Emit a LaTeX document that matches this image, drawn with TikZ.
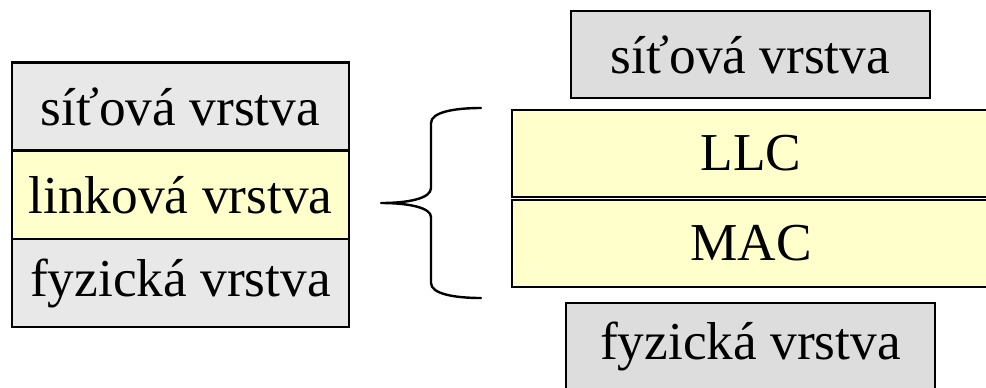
\documentclass[tikz,border=0pt]{standalone}
\usepackage{fontspec}
\setmainfont{Liberation Serif}
\definecolor{lgray}{HTML}{E8E8E8}
\definecolor{rgray}{HTML}{DDDDDD}
\definecolor{lyellow}{HTML}{FFFFCC}
\begin{document}
\begin{tikzpicture}[x=0.75pt,y=-0.75pt,
  layer/.style={draw=black,line width=2pt,inner sep=0pt,outer sep=0pt,
    font=\fontsize{40}{44}\selectfont,anchor=center},
  gray/.style={layer,fill=lgray},
  grayr/.style={layer,fill=rgray},
  yel/.style={layer,fill=lyellow}]
\useasboundingbox (0,0) rectangle (986,387);
\clip (0,0) rectangle (986,387);
% left stack
\node[gray,minimum width=337*0.75pt,minimum height=88*0.75pt] (lnet) at (180.5,106.5) {síťová vrstva};
\node[yel,minimum width=337*0.75pt,minimum height=88*0.75pt] (llink) at (180.5,195) {linková vrstva};
\node[gray,minimum width=337*0.75pt,minimum height=88*0.75pt] (lphy) at (180.5,283) {fyzická vrstva};
% right stack
\node[grayr,minimum width=359*0.75pt,minimum height=87*0.75pt] (rnet) at (750.5,54.5) {síťová vrstva};
\node[yel,minimum width=478*0.75pt,minimum height=87*0.75pt] (llc) at (751,153.5) {LLC};
\node[yel,minimum width=478*0.75pt,minimum height=87*0.75pt] (mac) at (751,243.5) {MAC};
\node[grayr,minimum width=369*0.75pt,minimum height=86*0.75pt] (rphy) at (750.5,346) {fyzická vrstva};
% brace
\coordinate (btop) at (481,108);
\coordinate (btip) at (381,203);
\coordinate (bbot) at (481,298);
\draw[line width=1.8pt,line cap=round,line join=round]
  (btop) .. controls (455,108) and (431,112) .. (431,123)
  -- (431,188) .. controls (431,198) and (410,203) .. (btip)
  .. controls (410,203) and (431,208) .. (431,217)
  -- (431,283) .. controls (431,294) and (455,298) .. (bbot);
\end{tikzpicture}
\end{document}
